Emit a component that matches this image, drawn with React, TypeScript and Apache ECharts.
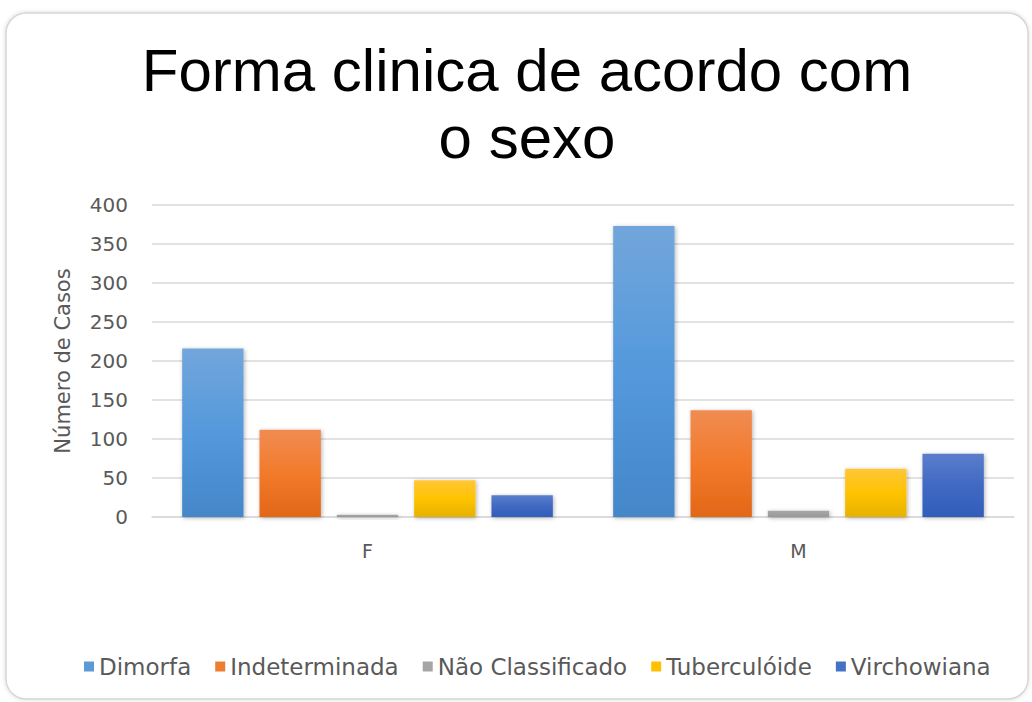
import React, { useEffect, useRef } from "react";
import * as echarts from "echarts";

const categories = ["F", "M"];
const seriesNames = ["Dimorfa", "Indeterminada", "Não Classificado", "Tuberculóide", "Virchowiana"];
const dimorfa = [216, 373];
const indeterminada = [112, 137];
const naoClassificado = [3, 8];
const tuberculoide = [47, 62];
const virchowiana = [28, 81];
const yTicks = [0, 50, 100, 150, 200, 250, 300, 350, 400];

const seriesValues = [dimorfa, indeterminada, naoClassificado, tuberculoide, virchowiana];
const flatColors = ["#5B9BD5", "#ED7D31", "#A5A5A5", "#FFC000", "#4472C4"];
const gradStops: [string, string, string][] = [
  ["#72A6DB", "#5499DC", "#4487C9"],
  ["#F08C52", "#F27A2A", "#E26718"],
  ["#A8A8A8", "#A0A0A0", "#989898"],
  ["#FFC638", "#FFC300", "#E6B200"],
  ["#5A7ECB", "#4169C4", "#2F5DB9"],
];

export default function App() {
  const ref = useRef<HTMLDivElement>(null);
  useEffect(() => {
    if (!ref.current) return;
    const chart = echarts.init(ref.current, null, { renderer: "svg" });
    const gray = "#595959";
    chart.setOption({
      animation: false,
      backgroundColor: "#ffffff",
      graphic: [
        {
          type: "rect",
          z: -10,
          shape: { x: 6, y: 13, width: 1022, height: 686, r: 20 },
          style: {
            fill: "#ffffff",
            stroke: "#d6d6d6",
            lineWidth: 1.5,
            shadowBlur: 4,
            shadowColor: "rgba(0,0,0,0.15)",
          },
        },
        {
          type: "text",
          x: 527,
          y: 37,
          style: {
            text: "Forma clinica de acordo com\no sexo",
            fontSize: 60,
            lineHeight: 67,
            fontFamily: "Liberation Sans",
            fill: "#000000",
            align: "center",
            verticalAlign: "top",
          },
        },
      ],
      legend: {
        bottom: 19,
        left: 79,
        itemWidth: 10,
        itemHeight: 10,
        itemGap: 24,
        icon: "rect",
        textStyle: { color: gray, fontSize: 23, fontFamily: "DejaVu Sans", padding: [0, 0, 0, 0] },
        data: seriesNames.map((n, i) => ({ name: n, itemStyle: { color: flatColors[i] } })),
      },
      grid: { left: 152, right: 18, top: 205, bottom: 185, containLabel: false },
      xAxis: {
        type: "category",
        data: categories,
        axisLine: { show: true, lineStyle: { color: "#d9d9d9", width: 1.5 } },
        axisTick: { show: false },
        axisLabel: { color: gray, fontSize: 19, fontFamily: "DejaVu Sans", margin: 24 },
      },
      yAxis: {
        type: "value",
        min: yTicks[0],
        max: yTicks[yTicks.length - 1],
        interval: 50,
        name: "Número de Casos",
        nameLocation: "middle",
        nameGap: 79,
        nameTextStyle: { color: gray, fontSize: 21, fontFamily: "DejaVu Sans" },
        axisLine: { show: false },
        axisTick: { show: false },
        axisLabel: { color: gray, fontSize: 20, fontFamily: "DejaVu Sans", margin: 24 },
        splitLine: { lineStyle: { color: "#d9d9d9", width: 1.5 } },
      },
      series: seriesNames.map((n, i) => ({
        name: n,
        type: "bar",
        data: seriesValues[i],
        barCategoryGap: "14%",
        barGap: "26%",
        itemStyle: {
          color: new echarts.graphic.LinearGradient(0, 0, 0, 1, [
            { offset: 0, color: gradStops[i][0] },
            { offset: 0.5, color: gradStops[i][1] },
            { offset: 1, color: gradStops[i][2] },
          ]),
          shadowBlur: 4,
          shadowColor: "rgba(0,0,0,0.3)",
          shadowOffsetX: 1,
          shadowOffsetY: 1,
        },
      })),
    });
    return () => chart.dispose();
  }, []);
  return (
    <div
      ref={ref}
      style={{ position: "fixed", left: 0, top: 0, width: 1032, height: 702 }}
    />
  );
}
